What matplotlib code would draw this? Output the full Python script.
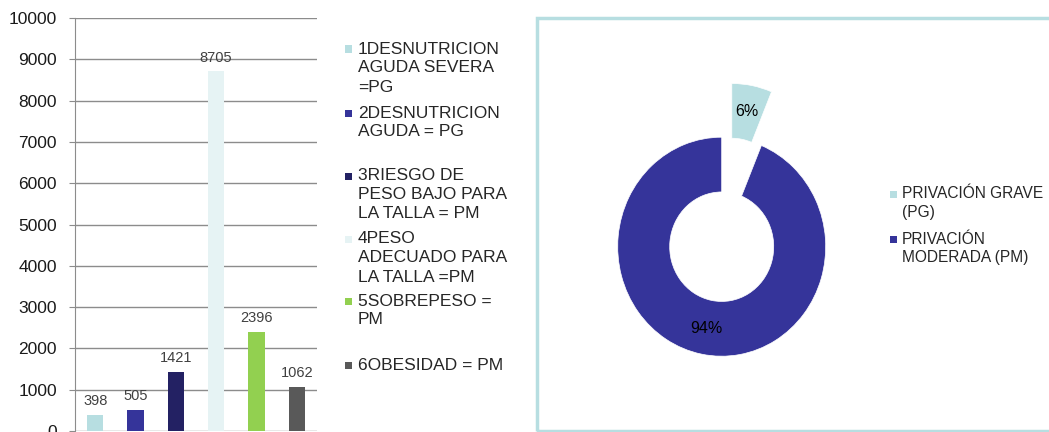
import matplotlib
matplotlib.use("Agg")
import matplotlib.pyplot as plt
from matplotlib.patches import Rectangle

plt.rcParams["font.family"] = ["Liberation Sans", "DejaVu Sans"]

# bar chart data
categories = [
    "1DESNUTRICION\nAGUDA SEVERA\n=PG",
    "2DESNUTRICION\nAGUDA = PG",
    "3RIESGO DE\nPESO BAJO PARA\nLA TALLA = PM",
    "4PESO\nADECUADO PARA\nLA TALLA =PM",
    "5SOBREPESO =\nPM",
    "6OBESIDAD = PM",
]
values = [398, 505, 1421, 8705, 2396, 1062]
groups = ["PG", "PG", "PM", "PM", "PM", "PM"]
bar_colors = ["#B7DEE1", "#35349A", "#232163", "#E6F3F4", "#92D050", "#595959"]

# donut data (sum of each group)
pie_labels = ["PRIVACIÓN GRAVE\n(PG)", "PRIVACIÓN\nMODERADA (PM)"]
pie_values = [sum(v for v, g in zip(values, groups) if g == k) for k in ("PG", "PM")]
pie_colors = ["#B7DEE1", "#35349A"]

W, H = 1049, 432
fig = plt.figure(figsize=(W / 100, H / 100), dpi=100, facecolor="white")

# ---- bar chart ----
ax = fig.add_axes([75 / W, 1 / H, 242 / W, 413 / H])
x = range(len(values))
bars = ax.bar(x, values, width=0.4, color=bar_colors, zorder=3)
ax.bar_label(bars, labels=[str(v) for v in values], padding=5, fontsize=10.5, color="#404040")
ax.set_xlim(-0.5, len(values) - 0.5)
ax.set_ylim(0, 10000)
ax.set_yticks(range(0, 10001, 1000))
ax.set_xticks([])
ax.grid(axis="y", color="#8C8C8C", linewidth=1, zorder=0)
for s in ["top", "right", "bottom"]:
    ax.spines[s].set_visible(False)
ax.spines["left"].set_color("#8C8C8C")
ax.tick_params(axis="y", direction="out", length=4, color="#8C8C8C",
               labelsize=12.5, pad=9, labelcolor="#1a1a1a")

# legend for bars, drawn by hand to keep the uneven spacing
leg_y = [49, 113, 176, 239, 301, 365]
for lab, col, y0 in zip(categories, bar_colors, leg_y):
    fig.patches.append(Rectangle((345 / W, 1 - (y0 + 3.5) / H), 7 / W, 7 / H,
                                 transform=fig.transFigure, facecolor=col, edgecolor="none"))
    for i, line in enumerate(lab.split("\n")):
        fig.text(358 / W, 1 - (y0 + i * 19) / H, line, fontsize=12.5, color="#262626",
                 va="center", ha="left")

# ---- frame around donut ----
fig.patches.append(Rectangle((537 / W, 1 - 431 / H), (W + 10 - 537) / W, (431 - 18) / H,
                             transform=fig.transFigure, facecolor="none",
                             edgecolor="#B7DEE1", linewidth=2.5, zorder=0))

# ---- donut ----
rx, ry = 104, 109.5
cx, cy = 721.7, H - 246.7
lim = 1.6
ax2 = fig.add_axes([(cx - lim * rx) / W, (cy - lim * ry) / H, 2 * lim * rx / W, 2 * lim * ry / H])
wedges, texts, autotexts = ax2.pie(
    pie_values, colors=pie_colors, startangle=90, counterclock=False,
    explode=[0.5, 0], radius=1, autopct="%1.0f%%", pctdistance=0.76,
    wedgeprops=dict(width=0.5, edgecolor="white", linewidth=0.5),
    textprops=dict(fontsize=11.5, color="black"),
)
ax2.set_aspect("auto")
ax2.set_xlim(-lim, lim)
ax2.set_ylim(-lim, lim)
ax2.axis("off")

pie_leg_y = [194, 239.5]
for lab, col, y0 in zip(pie_labels, pie_colors, pie_leg_y):
    fig.patches.append(Rectangle((890 / W, 1 - (y0 + 3.5) / H), 7 / W, 7 / H,
                                 transform=fig.transFigure, facecolor=col, edgecolor="none"))
    for i, line in enumerate(lab.split("\n")):
        fig.text(902 / W, 1 - (y0 + i * 18.3) / H, line, fontsize=11.2, color="#262626",
                 va="center", ha="left")

fig.savefig("out.png", dpi=100, facecolor="white")
